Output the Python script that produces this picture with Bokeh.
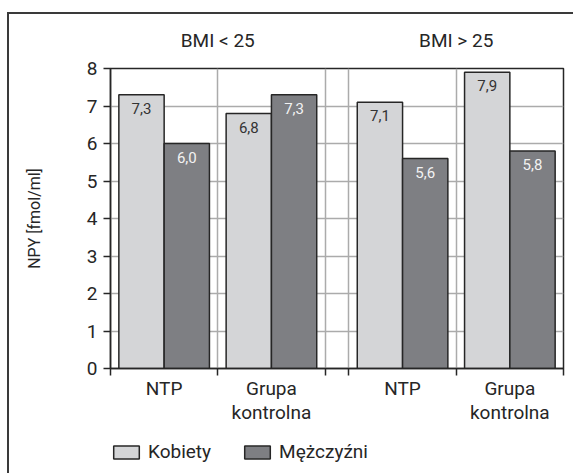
from bokeh.plotting import figure
from bokeh.layouts import column
from bokeh.models import (FixedTicker, LinearAxis, Legend, LegendItem, ColumnDataSource, Range1d)
from bokeh.embed import file_html
from bokeh.resources import INLINE
from bokeh.core.properties import value

# ---- data ----
groups = ["BMI < 25", "BMI > 25"]
categories = ["NTP", "Grupa\nkontrolna", "NTP", "Grupa\nkontrolna"]
series_names = ["Kobiety", "Mężczyźni"]
kobiety = [7.3, 6.8, 7.1, 7.9]
mezczyzni = [6.0, 7.3, 5.6, 5.8]
y_ticks = [0, 1, 2, 3, 4, 5, 6, 7, 8]
y_label = "NPY [fmol/ml]"

# ---- layout in data units ----
CAT_W = 9.0
GAP = 2.0
BAR_W = 3.8
FONT = "Roboto"
LIGHT = "#d4d5d7"
DARK = "#7e7f83"
INK = "#262626"
GRID = "#ababab"

centers = []
for i in range(len(categories)):
    g = i // 2
    centers.append(g * (2 * CAT_W + GAP) + (i % 2) * CAT_W + CAT_W / 2)
boundaries = []
for g in range(len(groups)):
    s = g * (2 * CAT_W + GAP)
    boundaries += [s, s + CAT_W, s + 2 * CAT_W]
group_centers = [g * (2 * CAT_W + GAP) + CAT_W for g in range(len(groups))]
x_end = boundaries[-1]

p = figure(width=573, height=430, output_backend="svg", toolbar_location=None,
           x_range=Range1d(0, x_end), y_range=Range1d(0, 8),
           min_border_left=110, min_border_right=10, min_border_top=68, min_border_bottom=62)
p.background_fill_color = "white"
p.border_fill_color = None
p.outline_line_color = INK
p.outline_line_width = 1.5

xl = [c - BAR_W / 2 for c in centers]
xr = [c + BAR_W / 2 for c in centers]
src = ColumnDataSource(dict(
    xl=xl, xr=xr, k=kobiety, m=mezczyzni,
    kt=[f"{v:.1f}".replace(".", ",") for v in kobiety],
    mt=[f"{v:.1f}".replace(".", ",") for v in mezczyzni],
))
rk = p.vbar(x="xl", top="k", width=BAR_W, bottom=0, source=src,
            fill_color=LIGHT, line_color=INK, line_width=1.5)
rm = p.vbar(x="xr", top="m", width=BAR_W, bottom=0, source=src,
            fill_color=DARK, line_color=INK, line_width=1.5)
p.text(x="xl", y="k", text="kt", source=src, text_align="center", text_baseline="top",
       y_offset=8, text_font=value(FONT), text_font_size="15px", text_color="#333333")
p.text(x="xr", y="m", text="mt", source=src, text_align="center", text_baseline="top",
       y_offset=8, text_font=value(FONT), text_font_size="15px", text_color="#f2f2f2")

# grids
p.xgrid.ticker = FixedTicker(ticks=boundaries)
p.ygrid.ticker = FixedTicker(ticks=y_ticks[1:-1])
for gr in (p.xgrid, p.ygrid):
    gr.grid_line_color = GRID
    gr.grid_line_width = 1.5

# y axis
ya = p.yaxis[0]
ya.ticker = FixedTicker(ticks=y_ticks)
ya.major_tick_out = 7
ya.major_tick_in = 0
ya.minor_tick_out = 0
ya.minor_tick_in = 0
ya.axis_line_color = INK
ya.axis_line_width = 1.5
ya.major_tick_line_color = INK
ya.major_tick_line_width = 1.5
ya.major_label_text_font = FONT
ya.major_label_text_font_size = "19px"
ya.major_label_text_color = INK
ya.major_label_standoff = 6
ya.axis_label = y_label
ya.axis_label_text_font = FONT
ya.axis_label_text_font_size = "16px"
ya.axis_label_text_font_style = "normal"
ya.axis_label_text_color = INK
ya.axis_label_standoff = 40

# x axis (category labels at centers, ticks at boundaries)
xa = p.xaxis[0]
xa.ticker = FixedTicker(ticks=centers, minor_ticks=boundaries)
xa.major_label_overrides = {c: lab for c, lab in zip(centers, categories)}
xa.major_tick_out = 0
xa.major_tick_in = 0
xa.minor_tick_out = 7
xa.minor_tick_in = 0
xa.minor_tick_line_color = INK
xa.minor_tick_line_width = 1.5
xa.axis_line_color = INK
xa.axis_line_width = 1.5
xa.major_label_text_font = FONT
xa.major_label_text_font_size = "19px"
xa.major_label_text_line_height = 1.05
xa.major_label_text_color = INK
xa.major_label_standoff = 1

# group labels above
top = LinearAxis(ticker=FixedTicker(ticks=group_centers),
                 major_label_overrides={c: g for c, g in zip(group_centers, groups)})
top.axis_line_color = None
top.major_tick_line_color = None
top.minor_tick_line_color = None
top.major_label_text_font = FONT
top.major_label_text_font_size = "19px"
top.major_label_text_color = INK
top.major_label_standoff = 11
p.add_layout(top, "above")

# ---- legend strip (separate figure so the legend is not clipped) ----
pl = figure(width=573, height=43, output_backend="svg", toolbar_location=None,
            x_range=Range1d(0, x_end), y_range=Range1d(0, 8),
            x_axis_type=None, y_axis_type=None,
            min_border_left=0, min_border_right=0, min_border_top=0, min_border_bottom=0)
pl.background_fill_color = None
pl.border_fill_color = None
pl.outline_line_color = None
lk = pl.vbar(x="xl", top="k", width=BAR_W, bottom=0, source=src,
             fill_color=LIGHT, line_color=INK, line_width=1.5)
lm = pl.vbar(x="xr", top="m", width=BAR_W, bottom=0, source=src,
             fill_color=DARK, line_color=INK, line_width=1.5)
lk.visible = False
lm.visible = False
legend = Legend(items=[LegendItem(label=series_names[0], renderers=[lk]),
                       LegendItem(label=series_names[1], renderers=[lm])],
                orientation="horizontal", location=(0, 10))
legend.border_line_color = None
legend.background_fill_color = None
legend.label_text_font = FONT
legend.label_text_font_size = "19px"
legend.label_text_color = INK
legend.glyph_width = 32
legend.glyph_height = 16
legend.label_standoff = 6
legend.spacing = 30
legend.padding = 0
legend.margin = 0
legend.inactive_fill_alpha = 0
pl.add_layout(legend, "center")

layout = column(p, pl, spacing=0)
# outer page box (top and left edges) drawn as CSS background behind the transparent canvases
layout.styles = {
    "background-color": "white",
    "background-image": "linear-gradient(#3a3a3a, #3a3a3a), linear-gradient(#3a3a3a, #3a3a3a)",
    "background-size": "2px 100%, 100% 2px",
    "background-position": "7px 12px, 7px 12px",
    "background-repeat": "no-repeat",
}

open("out.html", "w").write(file_html(layout, INLINE))
